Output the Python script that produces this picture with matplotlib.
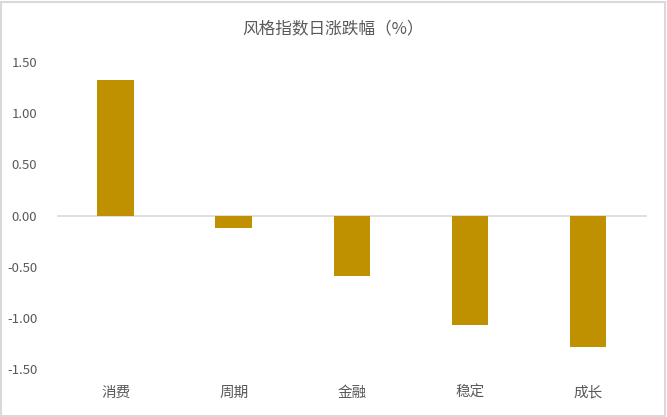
import matplotlib.pyplot as plt
from matplotlib.patches import Rectangle

plt.rcParams['font.family'] = ['Noto Sans CJK SC', 'DejaVu Sans']

categories = ['消费', '周期', '金融', '稳定', '成长']
values = [1.33, -0.12, -0.59, -1.07, -1.28]
yticks = [1.5, 1.0, 0.5, 0.0, -0.5, -1.0, -1.5]

fig = plt.figure(figsize=(6.67, 4.17), dpi=100)
ax = fig.add_axes([0.085, 0.115, 0.885, 0.736])

x = range(len(categories))
ax.bar(x, values, width=0.31, color='#BF9000')
ax.axhline(0, color='#D9D9D9', linewidth=1.2, zorder=0)

ax.set_xlim(-0.5, len(categories) - 0.5)
ax.set_ylim(-1.5, 1.5)
ax.set_yticks(yticks)
ax.set_yticklabels(['%.2f' % v for v in yticks], color='#595959', fontsize=9.5)
ax.set_xticks(list(x))
ax.set_xticklabels(categories, color='#595959', fontsize=10.5)
ax.tick_params(length=0)
ax.tick_params(axis='y', pad=14)
ax.tick_params(axis='x', pad=12)
for s in ax.spines.values():
    s.set_visible(False)

fig.text(0.5, 0.93, '风格指数日涨跌幅（%）', ha='center', va='center',
         color='#595959', fontsize=12)

fig.patches.append(Rectangle((0.002, 0.003), 0.995, 0.993, transform=fig.transFigure,
                             fill=False, edgecolor='#D9D9D9', linewidth=1.5))

fig.savefig('out.png', dpi=100)
